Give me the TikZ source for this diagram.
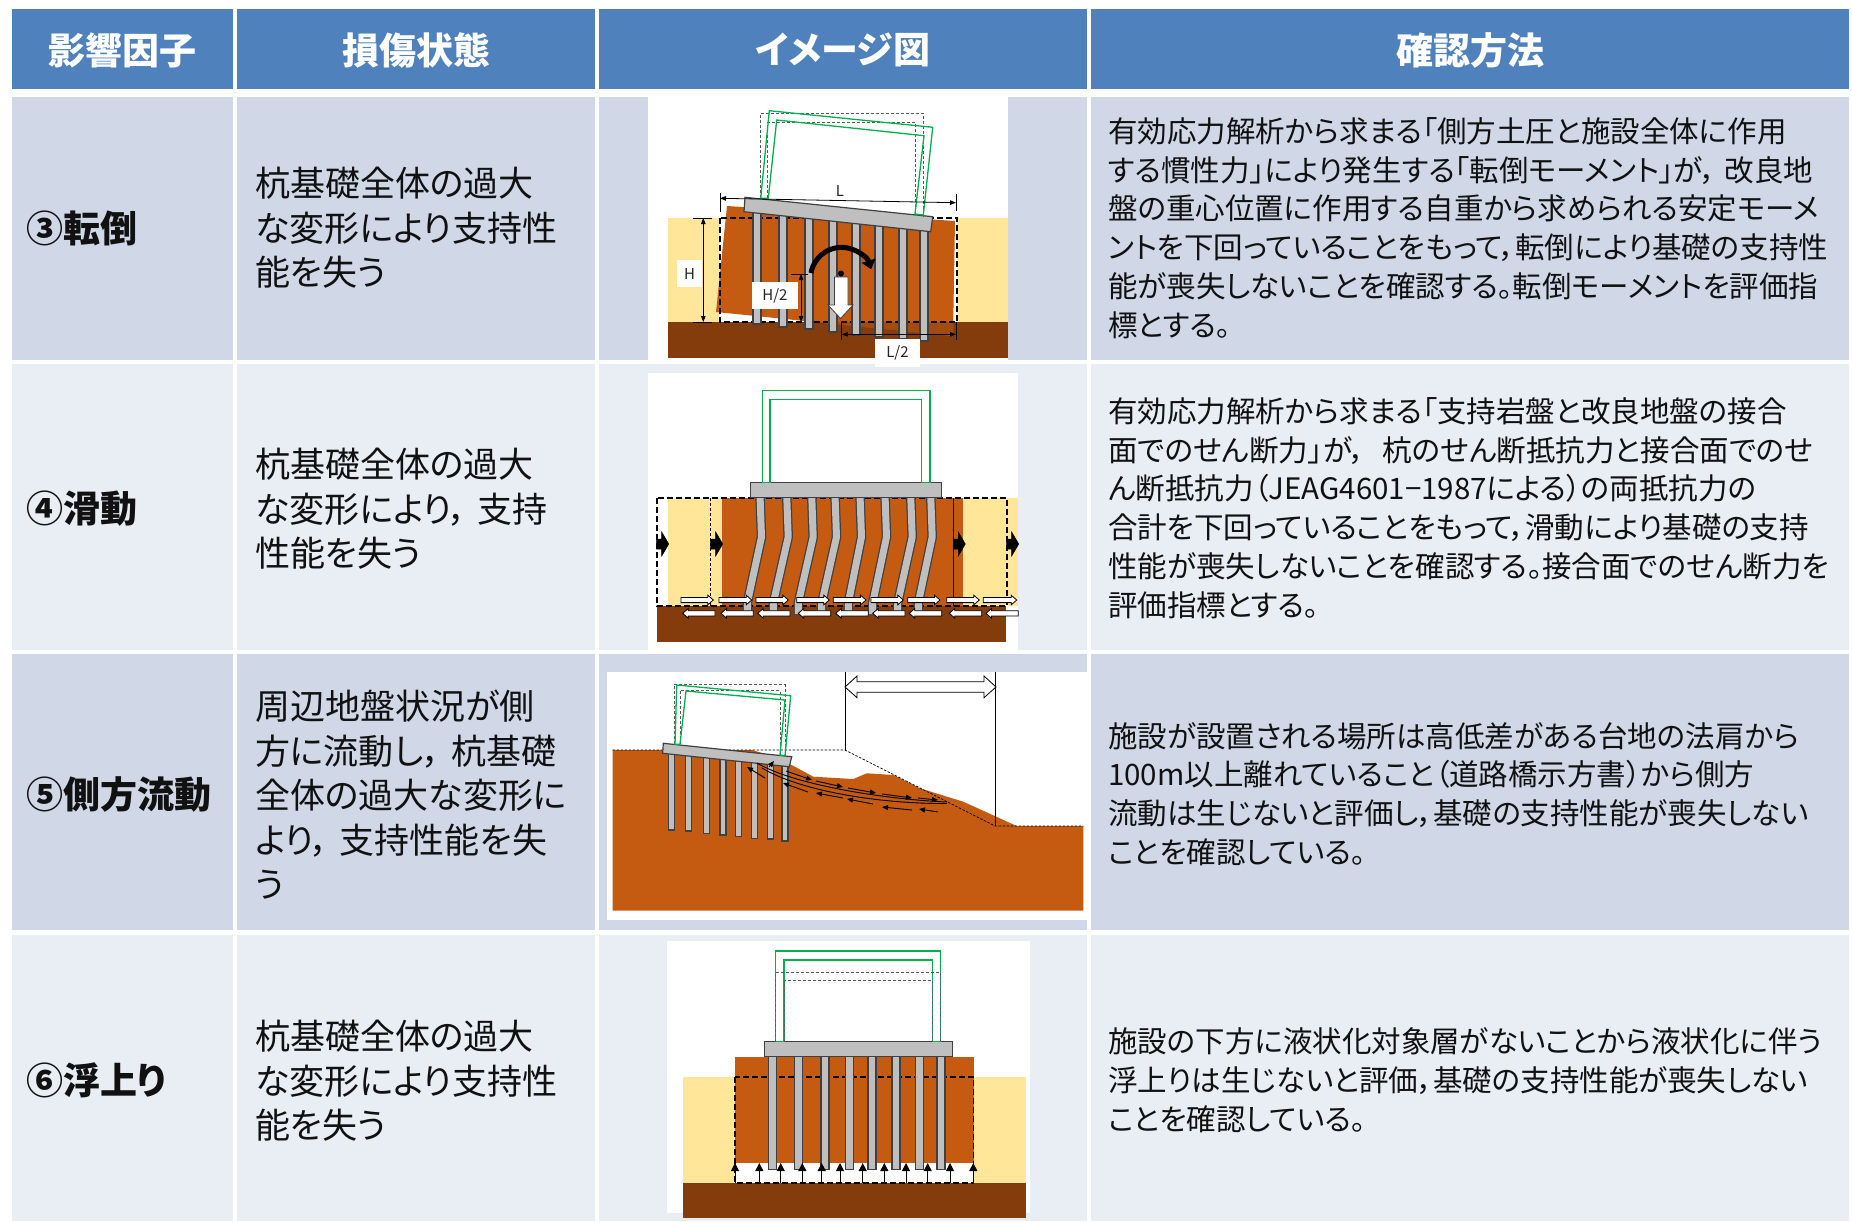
\documentclass[tikz,border=0pt]{standalone}
\usepackage{fontspec}
\setmainfont{Noto Sans CJK JP}[RawFeature=+palt]
\usetikzlibrary{arrows.meta}
\definecolor{hblue}{HTML}{4F81BD}
\definecolor{rowA}{HTML}{D0D8E8}
\definecolor{rowB}{HTML}{E9EDF4}
\definecolor{gorange}{HTML}{C55A11}
\definecolor{gbrown}{HTML}{843C0C}
\definecolor{gsand}{HTML}{FFE699}
\definecolor{gblend}{HTML}{A04B10}
\definecolor{pilegray}{HTML}{BFBFBF}
\definecolor{piledark}{HTML}{404040}
\definecolor{bgreen}{HTML}{00B050}
\definecolor{txt}{HTML}{111111}
\newcommand\cm{，\kern0.3em}
\tikzset{
  hdr/.style={text=white, font=\fontsize{37}{42}\selectfont\bfseries, inner sep=0pt},
  fac/.style={anchor=west, text=txt, font=\fontsize{37}{42}\selectfont\bfseries, inner sep=0pt},
  dmg/.style={anchor=west, align=left, text=txt, font=\fontsize{35}{44.5}\selectfont, inner sep=0pt},
  chk/.style={anchor=west, align=left, text=txt, font=\fontsize{29.5}{38.8}\selectfont, inner sep=0pt},
  pile/.style={fill=pilegray, draw=piledark, line width=1.2pt},
  capbox/.style={fill=pilegray, draw=piledark, line width=1.2pt},
  bldg/.style={draw=bgreen, line width=1.3pt, line join=miter},
  olddash/.style={draw=black!65, line width=0.9pt, dash pattern=on 3pt off 2pt},
  bigdash/.style={draw=black, line width=1.6pt, dash pattern=on 6pt off 3pt},
  dimline/.style={draw=black, line width=0.8pt},
  dimarr/.style={{Triangle[length=6pt,width=4.5pt]}-{Triangle[length=6pt,width=4.5pt]}},
  dimbox/.style={fill=white, inner sep=0pt, text=black!85, font=\fontsize{15}{15}\selectfont},
  warr/.style={fill=white, draw=black, line width=0.8pt},
  barr/.style={fill=black, draw=black, line width=0.5pt},
  slip/.style={draw=black, line width=0.9pt, -{Triangle[length=6pt,width=5pt]}},
}
\newcommand\pilev[4]{\draw[pile] (#1-#4,#2) rectangle (#1+#4,#3);}
\newcommand\bentpile[3]{%
  \draw[piledark, line width=9.5pt] (#1,495) -- (#1+1.5,537) -- (#2,#3) -- (#2,615);
  \draw[pilegray, line width=7pt] (#1,495) -- (#1+1.5,537) -- (#2,#3) -- (#2,614);}
\newcommand\rarr[3]{\draw[warr] (#1,#3-2.6) -- (#2-5.5,#3-2.6) -- (#2-5.5,#3-4.8) -- (#2,#3) -- (#2-5.5,#3+4.8) -- (#2-5.5,#3+2.6) -- (#1,#3+2.6) -- cycle;}
\newcommand\larr[3]{\draw[warr] (#2,#3-2.6) -- (#1+5.5,#3-2.6) -- (#1+5.5,#3-4.8) -- (#1,#3) -- (#1+5.5,#3+4.8) -- (#1+5.5,#3+2.6) -- (#2,#3+2.6) -- cycle;}
\newcommand\blkarr[2]{\draw[barr] (#1,#2-5) -- (#1+5,#2-5) -- (#1+5,#2-12) -- (#1+12,#2) -- (#1+5,#2+12) -- (#1+5,#2+5) -- (#1,#2+5) -- cycle;}
\newcommand\uparr[1]{\draw[line width=1pt, -{Triangle[length=8pt,width=8pt]}] (#1,1182.7) -- (#1,1163);}
\begin{document}
\begin{tikzpicture}[x=1pt,y=-1pt]
\useasboundingbox (0,0) rectangle (1852,1221);
\fill[white] (0,0) rectangle (1852,1221);
% ---------- table cells ----------
\fill[hblue] (12,9) rectangle (233,89);
\fill[hblue] (237,9) rectangle (595,89);
\fill[hblue] (599,9) rectangle (1087,89);
\fill[hblue] (1091,9) rectangle (1849,89);
\foreach \ya/\yb/\cc in {97/360/rowA, 364/650/rowB, 654/930/rowA, 935/1221/rowB}{
  \fill[\cc] (12,\ya) rectangle (233,\yb);
  \fill[\cc] (237,\ya) rectangle (595,\yb);
  \fill[\cc] (599,\ya) rectangle (1087,\yb);
  \fill[\cc] (1091,\ya) rectangle (1849,\yb);
}
% ---------- header ----------
\node[hdr] (h1) at (122.5,50) {影響因子};
\node[hdr] (h2) at (416,50) {損傷状態};
\node[hdr] (h3) at (843,50) {イメージ図};
\node[hdr] (h4) at (1470,50) {確認方法};
% ---------- column 1 ----------
\node[fac] (f3) at (26,228) {③転倒};
\node[fac] (f4) at (26,509) {④滑動};
\node[fac] (f5) at (26,794) {⑤側方流動};
\node[fac] (f6) at (26,1080) {⑥浮上り};
% ---------- column 2 ----------
\node[dmg] (d3) at (255,228) {杭基礎全体の過大\\な変形により支持性\\能を失う};
\node[dmg] (d4) at (255,509) {杭基礎全体の過大\\な変形により\cm 支持\\性能を失う};
\node[dmg] (d5) at (255,795) {周辺地盤状況が側\\方に流動し\cm 杭基礎\\全体の過大な変形に\\より\cm 支持性能を失\\う};
\node[dmg] (d6) at (255,1081) {杭基礎全体の過大\\な変形により支持性\\能を失う};
% ---------- column 4 ----------
\node[chk] (c3) at (1108,228) {有効応力解析から求まる「側方土圧と施設全体に作用\\する慣性力」により発生する「転倒モーメント」が\cm 改良地\\盤の重心位置に作用する自重から求められる安定モーメ\\ントを下回っていることをもって，転倒により基礎の支持性\\能が喪失しないことを確認する。転倒モーメントを評価指\\標とする。};
\node[chk] (c4) at (1108,508) {有効応力解析から求まる「支持岩盤と改良地盤の接合\\面でのせん断力」が\cm\kern0.3em 杭のせん断抵抗力と接合面でのせ\\ん断抵抗力（JEAG4601−1987による）の両抵抗力の\\合計を下回っていることをもって，滑動により基礎の支持\\性能が喪失しないことを確認する。接合面でのせん断力を\\評価指標とする。};
\node[chk] (c5) at (1108,794) {施設が設置される場所は高低差がある台地の法肩から\\100m以上離れていること（道路橋示方書）から側方\\流動は生じないと評価し，基礎の支持性能が喪失しない\\ことを確認している。};
\node[chk] (c6) at (1108,1080) {施設の下方に液状化対象層がないことから液状化に伴う\\浮上りは生じないと評価，基礎の支持性能が喪失しない\\ことを確認している。};

% ================= picture 1 : overturning =================
\fill[white] (648,97) rectangle (1008,363);
\fill[gsand] (668,218) rectangle (1008,322);
\fill[white] (720,218) rectangle (957,322);
\fill[gbrown] (668,322) rectangle (1008,358);
\fill[gorange] (727,206) -- (955,221) -- (953,336) -- (716,312) -- cycle;
\begin{scope}
  \clip (727,206) -- (955,221) -- (953,336) -- (716,312) -- cycle;
  \fill[gblend] (668,322) rectangle (1008,358);
\end{scope}
\draw[bigdash] (720,218) rectangle (957,322);
\pilev{757}{212}{324}{4}
\pilev{783}{215}{327}{4}
\pilev{809}{218}{329}{4}
\pilev{833}{220}{332}{4}
\pilev{856}{223}{335}{4}
\pilev{879}{225}{337}{4}
\pilev{903}{228}{339}{4}
\pilev{924}{230}{341}{4}
\draw[capbox] (745,197.3) -- (932.7,216.7) -- (930.7,231.7) -- (744,211.7) -- cycle;
\draw[olddash] (760.3,198) -- (760.3,113.3) -- (923.3,113.3) -- (923.3,216);
\draw[olddash] (767.7,198) -- (767.7,122.3) -- (915,122.3) -- (915,214);
\draw[bldg] (760.7,198.3) -- (769.3,110.7) -- (932.7,127.3) -- (923.3,215) -- (915,214) -- (924,135.7) -- (776.7,120) -- (768.3,198.3) -- cycle;
% dimension L
\draw[dimline] (720,193) -- (720,212);
\draw[dimline] (956,194) -- (956,211);
\draw[dimline, dimarr] (720,198.3) -- (956,202.7);
\node[dimbox, fill=none] (lblL) at (840,191) {L};
% dimension H
\draw[dimline] (693.3,218) -- (711.7,218);
\draw[dimline] (693.3,322) -- (711.7,322);
\draw[dimline, dimarr] (703.3,218) -- (703.3,322);
\node[dimbox, minimum width=25pt, minimum height=27pt] (lblH) at (689.5,273.5) {H};
% dimension H/2
\draw[dimline] (791,274) -- (808.3,274);
\draw[dimline, dimarr] (801,274) -- (801,322);
\node[dimbox, minimum width=46pt, minimum height=27pt] (lblH2) at (775,295.5) {H/2};
% dimension L/2
\draw[dimline] (841.7,323) -- (841.7,340);
\draw[dimline] (956,322) -- (956,340);
\draw[dimline, dimarr] (841.7,334.3) -- (956,334.3);
\node[dimbox, minimum width=45pt, minimum height=28pt] (lblL2) at (897.5,353) {L/2};
% moment and weight
\draw[line width=5pt, -{Triangle[length=9pt,width=14pt]}] (811,273) arc[start angle=190, end angle=343, radius=31];
\draw[fill=white, draw=piledark, line width=0.8pt] (834.5,277) -- (848,277) -- (848,305) -- (853,305) -- (840.5,318.5) -- (828,305) -- (834.5,305) -- cycle;
\fill (841,273.5) circle (3);

% ================= picture 2 : sliding =================
\fill[white] (648,373) rectangle (1018,650);
\fill[gsand] (668,498) rectangle (722,606);
\fill[gsand] (963,498) rectangle (1018,606);
\fill[gorange] (722,498) rectangle (963,606);
\fill[gbrown] (657,606) rectangle (1006,642);
\draw[bigdash] (657,498) rectangle (1007,606);
\draw[black, line width=0.8pt, dash pattern=on 3pt off 2pt] (710.7,498) -- (710.7,606);
\draw[black, line width=0.9pt] (953.3,498) -- (953.3,606);
\bentpile{760}{747.3}{603}
\bentpile{786.7}{773.3}{603}
\bentpile{811.7}{798.3}{603}
\bentpile{835}{821.7}{603}
\bentpile{860}{848.3}{603}
\bentpile{885}{872.7}{603}
\bentpile{910.7}{897.7}{603}
\bentpile{930.7}{918.3}{603}
\draw[capbox] (750.7,482.7) rectangle (941.7,497.7);
\draw[bldg] (762.3,482.7) -- (762.3,390.7) -- (930,390.7) -- (930,482.7) -- (921.7,482.7) -- (921.7,399.3) -- (770,399.3) -- (770,482.7) -- cycle;
\blkarr{656.7}{544}
\blkarr{710.7}{544}
\blkarr{953.3}{544}
\blkarr{1006.7}{544}
\rarr{681}{713.3}{600}
\rarr{719}{751.7}{600}
\rarr{756}{788.3}{600}
\rarr{796.7}{829.3}{600}
\rarr{833.3}{866}{600}
\rarr{871}{903.3}{600}
\rarr{907.7}{940}{600}
\rarr{946.7}{979.3}{600}
\rarr{983.3}{1016.7}{600}
\larr{682.7}{715}{613.3}
\larr{721}{753.3}{613.3}
\larr{757.7}{790}{613.3}
\larr{798.3}{830.7}{613.3}
\larr{835.7}{868.3}{613.3}
\larr{872.7}{905}{613.3}
\larr{909.3}{941.7}{613.3}
\larr{949.3}{981.7}{613.3}
\larr{986}{1018.3}{613.3}

% ================= picture 3 : lateral flow =================
\fill[white] (606.7,671.7) rectangle (1088.3,920);
\fill[gorange] (612.7,750) -- (752,750) -- (762,753) -- (791.7,765) -- (813.3,776.7) -- (853.3,779) -- (866.7,773.3) -- (893.3,775) -- (920,788.3) -- (963.3,801.7) -- (1016.7,826) -- (1083.3,826) -- (1083.3,910.7) -- (612.7,910.7) -- cycle;
\draw[black, line width=0.7pt, dash pattern=on 2.5pt off 1.5pt] (612.7,750) -- (845,750) -- (995,826) -- (1083.3,826);
\draw[black, line width=0.8pt] (845,671.7) -- (845,750);
\draw[black, line width=0.8pt] (995,671.7) -- (995,826);
\draw[warr] (845,687) -- (857,676) -- (857,681.7) -- (984,681.7) -- (984,676) -- (996,687) -- (984,697.7) -- (984,692.3) -- (857,692.3) -- (857,697.7) -- cycle;
\pilev{671.3}{753}{830}{3}
\pilev{688.7}{755}{831}{3}
\pilev{706.7}{757}{833.3}{3}
\pilev{723}{758.5}{835}{3}
\pilev{738.3}{760}{836.7}{3}
\pilev{754.3}{762}{838.3}{3}
\pilev{770.3}{763.5}{839}{3}
\pilev{785}{765}{841}{3}
\draw[capbox] (663.3,743.3) -- (791.7,756.7) -- (789.3,766.7) -- (662.7,753.3) -- cycle;
\draw[olddash] (674,744) -- (674,684.3) -- (785,684.3) -- (785,755.5);
\draw[olddash] (680,744) -- (680,690.3) -- (780,690.3) -- (780,755);
\draw[bldg] (675,744.3) -- (676.7,685) -- (790.7,695.7) -- (785,755.7) -- (780,755) -- (785,700) -- (686,691) -- (680,744.3) -- cycle;
% slip surface
\draw[black, line width=0.9pt] (757,763) .. controls (792,784) and (880,799) .. (947,802);
\draw[black, line width=0.9pt] (762,768) .. controls (800,791) and (880,804) .. (947,803.5);
\draw[slip] (786,771) -- (812,780);
\draw[slip] (816,781) -- (843,787);
\draw[slip] (848,788) -- (876,793);
\draw[slip] (882,794) -- (912,798);
\draw[slip] (918,798) -- (938,800);
\draw[slip] (765,778) -- (747,767);
\draw[slip] (808,792) -- (783,783);
\draw[slip] (843,798) -- (816,793);
\draw[slip] (873,804) -- (847,799);
\draw[slip] (912,810) -- (882,807);
\draw[slip] (938,812) -- (919,809);
\draw[slip] (769,767) -- (774,761);

% ================= picture 4 : uplift =================
\fill[white] (666.7,941) rectangle (1030,1213.3);
\fill[gsand] (682.7,1076.7) rectangle (1026,1183.3);
\fill[gorange] (735,1056.7) rectangle (974,1162.7);
\fill[white] (735,1162.7) rectangle (973.3,1183.3);
\fill[gbrown] (682.7,1183.3) rectangle (1026,1218);
\draw[bigdash] (735,1076.7) rectangle (973.3,1182.7);
\pilev{772.3}{1056}{1169.3}{4}
\pilev{798.3}{1056}{1169.3}{4}
\pilev{825}{1056}{1169.3}{4}
\pilev{849.3}{1056}{1169.3}{4}
\pilev{872}{1056}{1169.3}{4}
\pilev{896}{1056}{1169.3}{4}
\pilev{919.3}{1056}{1169.3}{4}
\pilev{941}{1056}{1169.3}{4}
\draw[capbox] (764.3,1041.7) rectangle (952.7,1056.7);
\draw[bldg] (775.7,1041.7) -- (775.7,951) -- (940.7,951) -- (940.7,1041.7) -- (932.3,1041.7) -- (932.3,960) -- (784,960) -- (784,1041.7) -- cycle;
\draw[olddash] (775.7,1041.7) -- (775.7,972.3) -- (940.7,972.3) -- (940.7,1041.7);
\draw[olddash] (784,1041.7) -- (784,980.7) -- (932.3,980.7) -- (932.3,1041.7);
\foreach \ux in {735,759.3,780.7,802.3,821.7,840,862.7,884.3,906,927.7,950,973.3}{\uparr{\ux}}
\end{tikzpicture}
\end{document}
